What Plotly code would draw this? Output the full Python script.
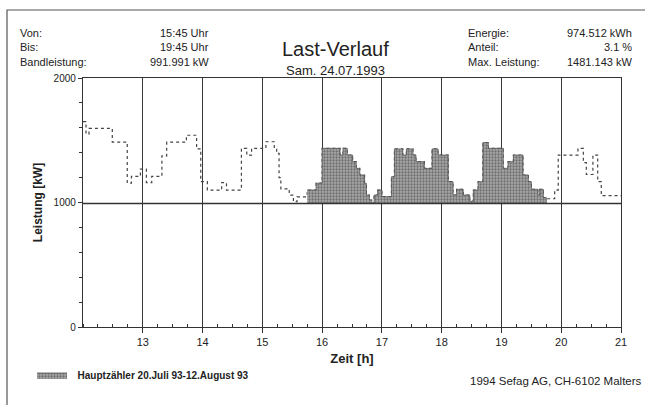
import plotly.graph_objects as go

# ---- data ----
step_start_h = [12.00, 12.05, 12.10, 12.49, 12.74, 12.81, 12.96, 13.06, 13.15, 13.32,
                13.40, 13.73, 13.90, 13.97, 14.08, 14.32, 14.40, 14.65, 14.74, 14.82,
                15.06, 15.20, 15.24, 15.28, 15.31, 15.45, 15.52, 15.58, 15.75, 15.90,
                16.00, 16.30, 16.35, 16.42, 16.51, 16.57, 16.63, 16.71, 16.74, 16.79,
                16.83, 16.87, 16.93, 17.00, 17.16, 17.21, 17.35, 17.41, 17.52, 17.57,
                17.71, 17.84, 17.94, 18.11, 18.19, 18.25, 18.36, 18.47, 18.53, 18.61,
                18.69, 18.78, 19.03, 19.11, 19.20, 19.36, 19.45, 19.50, 19.61, 19.64,
                19.70, 19.75, 19.89, 19.95, 20.28, 20.37, 20.42, 20.53, 20.61, 20.67]
load_kw = [1650, 1550, 1595, 1485, 1155, 1210, 1268, 1160, 1210, 1375,
           1485, 1540, 1430, 1167, 1100, 1160, 1100, 1435, 1380, 1435,
           1488, 1435, 1394, 1200, 1110, 1060, 1007, 1045, 1100, 1155,
           1435, 1381, 1435, 1381, 1328, 1274, 1221, 1154, 1060, 1020,
           995, 1060, 1100, 1047, 1207, 1430, 1381, 1430, 1381, 1328,
           1274, 1430, 1381, 1167, 1060, 1106, 1060, 1010, 1100, 1167,
           1481, 1435, 1274, 1328, 1381, 1221, 1167, 1106, 1060, 1106,
           1040, 1030, 1100, 1381, 1435, 1320, 1225, 1381, 1167, 1055]
end_h = 21.0
von_h, bis_h = 15.75, 19.75
bandleistung = 991.991
x_ticks = [13, 14, 15, 16, 17, 18, 19, 20, 21]
y_ticks = [0, 1000, 2000]

header_left = [("Von:", "15:45 Uhr"), ("Bis:", "19:45 Uhr"), ("Bandleistung:", "991.991 kW")]
header_right = [("Energie:", "974.512 kWh"), ("Anteil:", "3.1 %"), ("Max. Leistung:", "1481.143 kW")]

# ---- geometry (pixels) ----
W, H = 645, 405
L, R, T, B = 83, 24, 78, 78
PW, PH = W - L - R, H - T - B


def px(x):
    return (x - L) / PW


def py(y):
    return (H - B - y) / PH


FONT = "Liberation Sans, Arial, sans-serif"
INK = "#222222"

fig = go.Figure()

# full load curve (dotted)
xs = step_start_h + [end_h]
ys = load_kw + [load_kw[-1]]
fig.add_trace(go.Scatter(x=xs, y=ys, mode="lines", line_shape="hv",
                         line=dict(color="#444", width=1.2, dash="dot"),
                         showlegend=False, hoverinfo="skip"))

# filled segment between Von and Bis above Bandleistung
seg_x, seg_y = [], []
cur = None
for t, v in zip(step_start_h, load_kw):
    if t <= von_h:
        cur = v
for t, v in zip(step_start_h, load_kw):
    if t <= von_h:
        continue
    if t >= bis_h:
        break
    if not seg_x:
        seg_x.append(von_h)
        seg_y.append(cur)
    seg_x.append(t)
    seg_y.append(v)
    cur = v
seg_x.append(bis_h)
seg_y.append(cur)
poly_x = seg_x + [bis_h, von_h]
poly_y = seg_y + [bandleistung, bandleistung]

fig.add_trace(go.Scatter(x=poly_x, y=poly_y, mode="lines", line_shape="hv",
                         fill="toself", fillcolor="#9a9a9a",
                         fillpattern=dict(shape=".", fgcolor="#333333", bgcolor="#a8a8a8",
                                          size=3, solidity=0.45),
                         line=dict(color="#555", width=0.8),
                         name="\u00a0\u00a0Hauptzähler 20.Juli 93-12.August 93",
                         showlegend=True, hoverinfo="skip"))

# band line
fig.add_trace(go.Scatter(x=[12, end_h], y=[bandleistung, bandleistung], mode="lines",
                         line=dict(color="#333", width=1.3), showlegend=False,
                         hoverinfo="skip"))

fig.update_xaxes(range=[12, end_h], tickvals=x_ticks, ticktext=[str(v) for v in x_ticks],
                 showgrid=True, gridcolor="#3a3a3a", gridwidth=1.3,
                 showline=True, linecolor="#333", linewidth=1.3, mirror=True,
                 ticks="outside", ticklen=5, tickcolor="#333",
                 minor=dict(dtick=0.25, tick0=12, ticks="inside", ticklen=3, tickcolor="#333",
                            showgrid=False),
                 zeroline=False,
                 tickfont=dict(family=FONT, size=11, color=INK),
                 title=dict(text="<b>Zeit [h]</b>", font=dict(family=FONT, size=13, color=INK),
                            standoff=6))
fig.update_yaxes(range=[0, 2000], tickvals=y_ticks, showgrid=False,
                 showline=True, linecolor="#333", linewidth=1.3, mirror=True,
                 ticks="outside", ticklen=4, tickcolor="#333",
                 minor=dict(dtick=200, ticks="outside", ticklen=3, tickcolor="#333",
                            showgrid=False),
                 zeroline=False,
                 tickfont=dict(family=FONT, size=10, color=INK),
                 title=dict(text="<b>Leistung [kW]</b>", font=dict(family=FONT, size=12, color=INK),
                            standoff=8))

annotations = []


def text(x, y, s, size=11, anchor="left", bold=False, yanchor="middle"):
    annotations.append(dict(xref="paper", yref="paper", x=px(x), y=py(y), text=(f"<b>{s}</b>" if bold else s),
                            showarrow=False, xanchor=anchor, yanchor=yanchor,
                            font=dict(family=FONT, size=size, color=INK)))


rows_y = [33, 47, 62]
for (lab, val), yy in zip(header_left, rows_y):
    text(18, yy, lab, 11)
    text(211, yy, val, 11, anchor="right")
for (lab, val), yy in zip(header_right, rows_y):
    text(466, yy, lab, 11)
    text(634, yy, val, 11, anchor="right")

text(335, 49, "Last-Verlauf", 20, anchor="center")
text(335, 70, "Sam. 24.07.1993", 13, anchor="center")
text(468, 381, "1994 Sefag AG, CH-6102 Malters", 11.5)

# page frame
shapes = [dict(type="rect", xref="paper", yref="paper", x0=px(7), x1=px(660), y0=py(10), y1=py(420),
               line=dict(color="#555", width=1.2), fillcolor="rgba(0,0,0,0)", layer="below")]

fig.update_layout(
    width=W, height=H,
    margin=dict(l=L, r=R, t=T, b=B),
    paper_bgcolor="white", plot_bgcolor="white",
    annotations=annotations, shapes=shapes,
    showlegend=True,
    legend=dict(x=px(32), y=py(375), xanchor="left", yanchor="middle",
                font=dict(family=FONT, size=10, color=INK, weight="bold"),
                bgcolor="rgba(0,0,0,0)", itemwidth=30),
    font=dict(family=FONT, color=INK),
)

fig.write_html("out.html", config={"displayModeBar": False},
               post_script="document.body.style.margin='0px';document.body.style.overflow='hidden';")
